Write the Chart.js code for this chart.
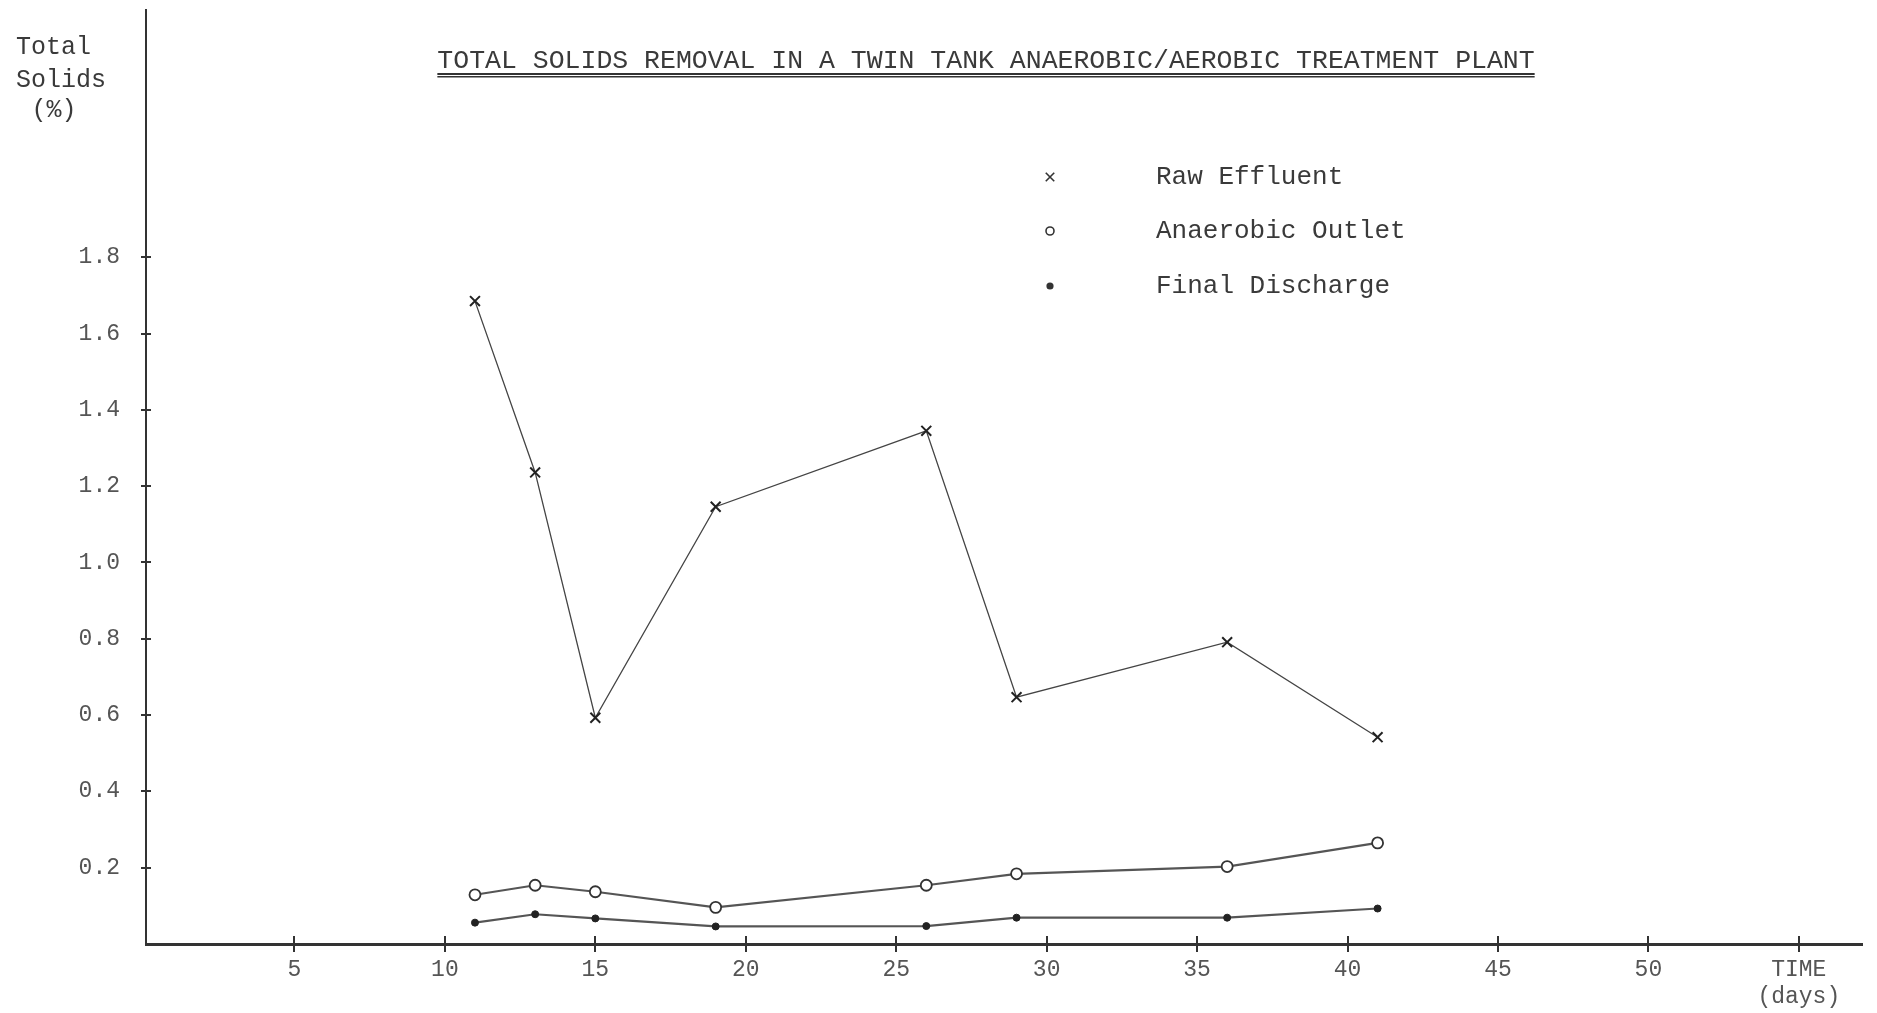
<!DOCTYPE html>
<html>
<head>
<meta charset="utf-8">
<script src="https://cdn.jsdelivr.net/npm/chart.js@4.4.0/dist/chart.umd.min.js"></script>
<style>
  html, body { margin: 0; padding: 0; background: #ffffff; }
  #wrap { width: 1877px; height: 1013px; }
</style>
</head>
<body>
<div id="wrap"><canvas id="c" width="1877" height="1013"></canvas></div>
<script>
// ---- data ----
const days = [11, 13, 15, 19, 26, 29, 36, 41];
const rawEffluent = [1.685, 1.236, 0.593, 1.146, 1.345, 0.647, 0.791, 0.542];
const anaerobicOutlet = [0.129, 0.154, 0.137, 0.096, 0.154, 0.184, 0.203, 0.265];
const finalDischarge = [0.056, 0.078, 0.067, 0.046, 0.047, 0.069, 0.069, 0.093];
const seriesNames = ['Raw Effluent', 'Anaerobic Outlet', 'Final Discharge'];
const xTickValues = [5, 10, 15, 20, 25, 30, 35, 40, 45, 50, 55];
const xTickLabels = ['5', '10', '15', '20', '25', '30', '35', '40', '45', '50', ['TIME', '(days)']];
const yTickValues = [0.2, 0.4, 0.6, 0.8, 1.0, 1.2, 1.4, 1.6, 1.8];
const yTickLabels = ['0.2', '0.4', '0.6', '0.8', '1.0', '1.2', '1.4', '1.6', '1.8'];
const chartTitle = 'TOTAL SOLIDS REMOVAL IN A TWIN TANK ANAEROBIC/AEROBIC TREATMENT PLANT';
const yAxisTitle = ['Total', 'Solids', '(%)'];

const FONT = "'Liberation Mono', 'DejaVu Sans Mono', monospace";
const INK = '#3a3a3a';

const toPts = (ys) => days.map((d, i) => ({ x: d, y: ys[i] }));

const zeroPad = (s) => { s.paddingTop = 0; s.paddingBottom = 0; s.paddingLeft = 0; s.paddingRight = 0; };

const decorPlugin = {
  id: 'decor',
  afterDraw(chart) {
    const ctx = chart.ctx;
    const xs = chart.scales.x, ys = chart.scales.y;
    const area = chart.chartArea;
    ctx.save();
    // tick marks
    ctx.strokeStyle = '#333';
    ctx.lineWidth = 2;
    const axisY = area.bottom;
    xTickValues.forEach(v => {
      const px = Math.round(xs.getPixelForValue(v));
      ctx.beginPath();
      ctx.moveTo(px, axisY - 8);
      ctx.lineTo(px, axisY + 8);
      ctx.stroke();
    });
    const axisX = area.left;
    yTickValues.forEach(v => {
      const py = Math.round(ys.getPixelForValue(v));
      ctx.beginPath();
      ctx.moveTo(axisX - 5, py);
      ctx.lineTo(axisX + 5, py);
      ctx.stroke();
    });

    // title
    ctx.fillStyle = INK;
    ctx.font = "26.5px " + FONT;
    ctx.textAlign = 'center';
    ctx.textBaseline = 'alphabetic';
    const tx = 986, ty = 68;
    ctx.fillText(chartTitle, tx, ty);
    const tw = ctx.measureText(chartTitle).width;
    ctx.fillStyle = '#333';
    ctx.fillRect(tx - tw / 2, ty + 5, tw, 2);
    ctx.fillRect(tx - tw / 2, ty + 8, tw, 1.5);

    // y axis title
    ctx.fillStyle = INK;
    ctx.font = "25px " + FONT;
    ctx.textAlign = 'left';
    ctx.textBaseline = 'middle';
    ctx.fillText(yAxisTitle[0], 16, 47);
    ctx.fillText(yAxisTitle[1], 16, 80);
    ctx.textAlign = 'center';
    ctx.fillText(yAxisTitle[2], 54, 110);

    // legend
    const rows = [177, 231, 286];
    chart.data.datasets.forEach((ds, i) => {
      const st = {
        pointStyle: ds.pointStyle,
        radius: i === 0 ? 6 : (i === 1 ? 4 : 2.8),
        borderWidth: 1.6,
        rotation: 0
      };
      ctx.strokeStyle = '#333';
      ctx.fillStyle = i === 1 ? '#ffffff' : '#333';
      ctx.lineWidth = 1.6;
      Chart.helpers.drawPoint(ctx, st, 1050, rows[i]);
      ctx.fillStyle = INK;
      ctx.font = "26px " + FONT;
      ctx.textAlign = 'left';
      ctx.textBaseline = 'middle';
      ctx.fillText(ds.label, 1156, rows[i]);
    });
    ctx.restore();
  }
};

new Chart(document.getElementById('c'), {
  type: 'line',
  data: {
    datasets: [
      {
        label: seriesNames[0],
        data: toPts(rawEffluent),
        borderColor: '#444',
        borderWidth: 1.3,
        pointStyle: 'crossRot',
        pointRadius: 7,
        pointBorderWidth: 2,
        pointBorderColor: '#222',
        tension: 0
      },
      {
        label: seriesNames[1],
        data: toPts(anaerobicOutlet),
        borderColor: '#555',
        borderWidth: 2.2,
        pointStyle: 'circle',
        pointRadius: 5.5,
        pointBorderWidth: 1.8,
        pointBorderColor: '#333',
        pointBackgroundColor: '#ffffff',
        tension: 0
      },
      {
        label: seriesNames[2],
        data: toPts(finalDischarge),
        borderColor: '#555',
        borderWidth: 2.2,
        pointStyle: 'circle',
        pointRadius: 3.5,
        pointBorderWidth: 1,
        pointBorderColor: '#222',
        pointBackgroundColor: '#222',
        tension: 0
      }
    ]
  },
  options: {
    responsive: false,
    animation: false,
    layout: { padding: { top: 10, right: 15, left: 0, bottom: 0 } },
    plugins: {
      legend: { display: false },
      title: { display: false },
      tooltip: { enabled: false }
    },
    scales: {
      x: {
        type: 'linear',
        min: 0.066,
        max: 57.1,
        afterBuildTicks: (s) => { s.ticks = xTickValues.map(v => ({ value: v })); },
        afterFit: (s) => { s.height = 69; zeroPad(s); },
        grid: { display: false, drawTicks: false },
        border: { display: true, color: '#333', width: 3 },
        ticks: {
          autoSkip: false,
          maxRotation: 0,
          padding: 12,
          color: '#555',
          font: { family: FONT, size: 23 },
          callback: (v) => { const i = xTickValues.indexOf(v); return i >= 0 ? xTickLabels[i] : ''; }
        }
      },
      y: {
        type: 'linear',
        min: 0,
        max: 2.448,
        afterBuildTicks: (s) => { s.ticks = yTickValues.map(v => ({ value: v })); },
        afterFit: (s) => { s.width = 146; zeroPad(s); },
        grid: { display: false, drawTicks: false },
        border: { display: true, color: '#333', width: 2 },
        ticks: {
          padding: 26,
          color: '#555',
          font: { family: FONT, size: 23 },
          callback: (v) => { const i = yTickValues.findIndex(t => Math.abs(t - v) < 1e-9); return i >= 0 ? yTickLabels[i] : ''; }
        }
      }
    }
  },
  plugins: [decorPlugin]
});
</script>
</body>
</html>
